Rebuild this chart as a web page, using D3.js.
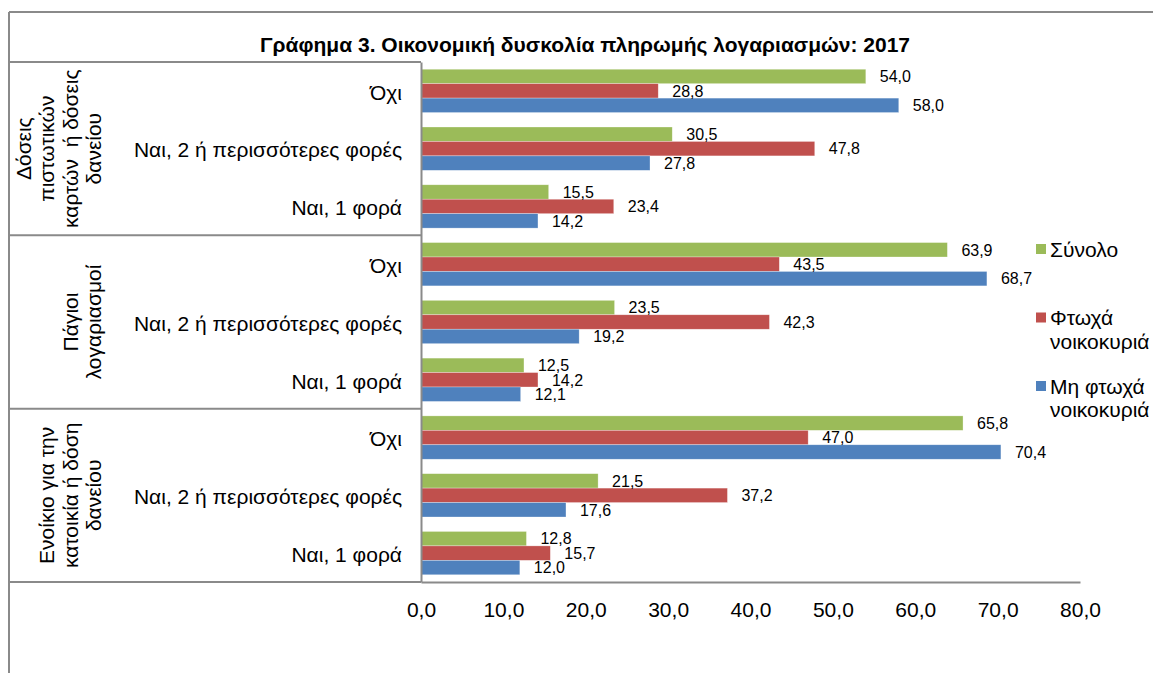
<!DOCTYPE html>
<html>
<head>
<meta charset="utf-8">
<script src="https://cdn.jsdelivr.net/npm/d3@7"></script>
<style>
  body { margin: 0; background: #fff; }
  svg { display: block; font-family: "Liberation Sans", Arial, sans-serif; }
</style>
</head>
<body>
<svg id="chart"></svg>
<script>
// categories
const groupLines = [
  ["Δόσεις", "πιστωτικών", "καρτών  ή δόσεις", "δανείου"],
  ["Πάγιοι", "λογαριασμοί"],
  ["Ενοίκιο για την", "κατοικία ή δόση", "δανείου"]
];
const answers = ["Όχι", "Ναι, 2 ή περισσότερες φορές", "Ναι, 1 φορά"];
const seriesNames = ["Σύνολο", "Φτωχά νοικοκυριά", "Μη φτωχά νοικοκυριά"];
const legendLines = [["Σύνολο"], ["Φτωχά", "νοικοκυριά"], ["Μη φτωχά", "νοικοκυριά"]];
const colors = ["#9BBB59", "#C0504D", "#4F81BD"];

// values, row order: group by group, answers top to bottom
const total   = [54.0, 30.5, 15.5, 63.9, 23.5, 12.5, 65.8, 21.5, 12.8];
const poor    = [28.8, 47.8, 23.4, 43.5, 42.3, 14.2, 47.0, 37.2, 15.7];
const nonPoor = [58.0, 27.8, 14.2, 68.7, 19.2, 12.1, 70.4, 17.6, 12.0];
const xTicks = [0, 10, 20, 30, 40, 50, 60, 70, 80];

const title = "Γράφημα 3. Οικονομική δυσκολία πληρωμής λογαριασμών: 2017";

const width = 1153, height = 673;
const plot = { left: 421, right: 1080, top: 62, bottom: 582 };
const gray = "#8a8a8a";

const svg = d3.select("#chart").attr("width", width).attr("height", height);

const rows = [];
groupLines.forEach((g, gi) => {
  answers.forEach((a, ai) => {
    const i = gi * answers.length + ai;
    rows.push({ key: gi + "|" + a, answer: a, values: [total[i], poor[i], nonPoor[i]] });
  });
});

const x = d3.scaleLinear().domain([0, 80]).range([plot.left, plot.right]);
const y = d3.scaleBand()
  .domain(rows.map(d => d.key))
  .range([plot.top, plot.bottom])
  .paddingInner(0.25)
  .paddingOuter(0.125);
const ySeries = d3.scaleBand().domain(d3.range(3)).range([0, y.bandwidth()]);

const fmt = v => d3.format(".1f")(v).replace(".", ",");

// outer frame (top and left edges visible)
svg.append("line")
  .attr("x1", 9).attr("x2", width).attr("y1", 12).attr("y2", 12)
  .attr("stroke", gray).attr("stroke-width", 2);
svg.append("line")
  .attr("x1", 9).attr("x2", 9).attr("y1", 12).attr("y2", height)
  .attr("stroke", gray).attr("stroke-width", 2);

// title
svg.append("text")
  .attr("x", 585).attr("y", 52)
  .attr("text-anchor", "middle")
  .style("font-size", "21px")
  .style("font-weight", "bold")
  .text(title);

// group separators in the label table
const groupH = (plot.bottom - plot.top) / groupLines.length;
d3.range(groupLines.length + 1).forEach(i => {
  const yy = plot.top + i * groupH;
  svg.append("line")
    .attr("x1", 9).attr("x2", plot.left).attr("y1", yy).attr("y2", yy)
    .attr("stroke", gray).attr("stroke-width", 2);
});

// group labels, rotated
groupLines.forEach((lines, gi) => {
  const cy = plot.top + (gi + 0.5) * groupH;
  const t = svg.append("text")
    .attr("transform", `translate(101, ${cy}) rotate(-90)`)
    .attr("text-anchor", "middle")
    .style("font-size", "21px")
    .style("white-space", "pre");
  lines.forEach((l, li) => {
    t.append("tspan")
      .attr("x", 0)
      .attr("y", -(lines.length - 1 - li) * 23.5)
      .text(l);
  });
});

// bars
const rowG = svg.append("g").selectAll("g")
  .data(rows)
  .join("g")
  .attr("transform", d => `translate(0, ${y(d.key)})`);

rowG.selectAll("rect")
  .data(d => d.values)
  .join("rect")
  .attr("x", x(0))
  .attr("y", (v, i) => ySeries(i))
  .attr("width", v => x(v) - x(0))
  .attr("height", ySeries.bandwidth())
  .attr("fill", (v, i) => colors[i])
  .attr("stroke", "#fff")
  .attr("stroke-opacity", 0.5)
  .attr("stroke-width", 0.6);

rowG.selectAll("text")
  .data(d => d.values)
  .join("text")
  .attr("x", v => x(v) + 14)
  .attr("y", (v, i) => ySeries(i) + ySeries.bandwidth() / 2)
  .attr("dy", "0.36em")
  .style("font-size", "16px")
  .text(v => fmt(v));

// y axis with answer labels
const yAxis = svg.append("g")
  .attr("transform", `translate(${plot.left}, 0)`)
  .call(d3.axisLeft(y).tickSize(0).tickPadding(19)
    .tickFormat(k => k.split("|")[1]));
yAxis.select(".domain").attr("stroke", gray).attr("stroke-width", 2);
yAxis.selectAll("text")
  .style("font-size", "21px")
  .style("font-family", "Liberation Sans, Arial, sans-serif")
  .attr("fill", "#000")
  .attr("dy", "0.42em");

// x axis
const xAxis = svg.append("g")
  .attr("transform", `translate(0, ${plot.bottom})`)
  .call(d3.axisBottom(x).tickValues(xTicks).tickSize(0).tickPadding(20).tickFormat(fmt));
xAxis.select(".domain").attr("stroke", gray).attr("stroke-width", 2);
xAxis.selectAll("text")
  .style("font-size", "21px")
  .style("font-family", "Liberation Sans, Arial, sans-serif")
  .attr("fill", "#000");

// legend
const legend = svg.append("g").selectAll("g")
  .data(seriesNames)
  .join("g")
  .attr("transform", (d, i) => `translate(1036, ${249 + i * 68.5})`);
legend.append("rect")
  .attr("x", 0).attr("y", -5)
  .attr("width", 10).attr("height", 10)
  .attr("fill", (d, i) => colors[i]);
legend.append("text")
  .attr("x", 14)
  .style("font-size", "21px")
  .each(function (d, i) {
    const t = d3.select(this);
    legendLines[i].forEach((l, li) => {
      t.append("tspan").attr("x", 14).attr("y", 7.5 + li * 23.5).text(l);
    });
  });
</script>
</body>
</html>
